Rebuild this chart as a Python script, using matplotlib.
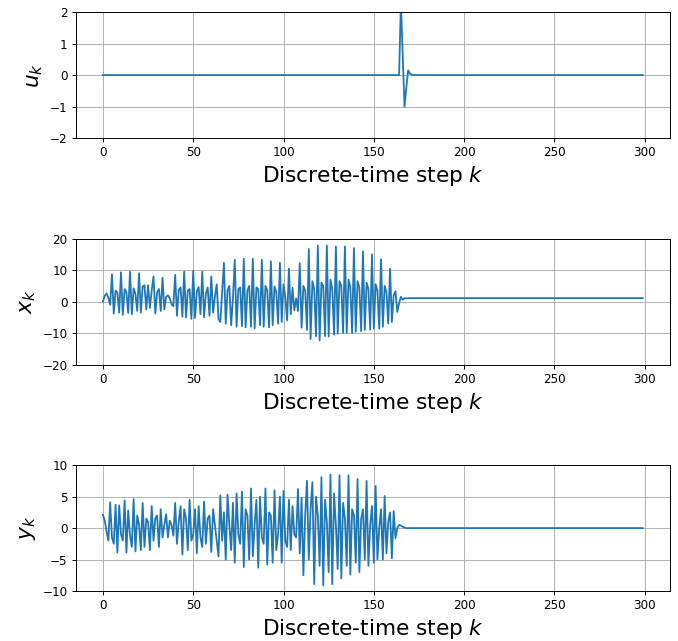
import numpy as np
from matplotlib import pyplot as plt

N = 300  # number of time steps

# input u_k (nonzero only around k=165)
u_start = 164
u_pulse = [0.0, 2.3, 0.6, -1.0, -0.4, 0.15, 0.05, 0.02, 0.0]

x_trans = [0.0, 1.8, 2.6, 1.2, -1.0, 8.7, -3.8, 3.5, 2.8, -3.5,
           9.3, -4.2, 4.0, 3.0, -3.6, 9.5, -4.0, 4.2, 2.5, -3.0,
           9.0, -3.5, 4.8, 5.2, -2.5, 5.2, -2.0, 3.5, 8.0, -3.8,
           3.0, 4.0, -3.0, 7.6, -2.5, 1.5, 2.0, 1.0, -0.8, -1.5,
           8.5, -4.5, 3.8, 4.5, -4.8, 9.5, -5.0, 3.5, 4.0, -5.5,
           9.8, -5.2, 3.2, 4.6, -4.0, 9.5, -5.0, 2.5, 4.5, -4.5,
           8.0, -3.5, 1.5, 5.5, -5.5, -6.5, 3.0, 12.3, -7.0, 3.5,
           5.0, -7.5, 1.0, 13.3, -8.0, 4.0, 4.5, -7.8, 13.6, -8.2,
           3.5, 5.0, -8.0, 13.6, -8.5, 4.5, 4.0, -7.5, 13.3, -8.0,
           5.0, 3.5, -8.2, 12.8, -7.5, 4.8, 3.0, -7.0, 12.3, -6.5,
           5.5, 1.5, -6.0, 10.5, -4.0, 4.4, -2.8, 1.0, -3.0, 12.2,
           -8.3, 5.0, 3.5, -9.0, 16.7, -11.9, 6.5, 4.0, -11.0, 17.8,
           -12.4, 6.0, 5.0, -11.0, 17.8, -11.1, 7.0, 4.0, -10.5, 17.5,
           -10.2, 6.5, 5.0, -10.0, 17.5, -10.0, 7.0, 4.5, -10.0, 17.0,
           -9.6, 6.5, 4.5, -9.4, 16.0, -9.0, 6.0, 4.0, -8.9, 15.0,
           -8.6, 5.5, 3.5, -8.6, 13.5, -8.0, 5.0, 3.0, -7.0, 10.5,
           -6.5, 2.0, 3.3, -3.3, -0.5, 1.5, 0.6, 1.1, 1.0]
x_steady = 1.1

# output y_k
y_trans = [2.1, 1.2, -0.5, -2.0, 4.1, -1.5, -2.5, 3.7, -3.9, 3.6,
           -1.0, -2.0, 4.4, -3.9, 2.8, -1.2, -3.0, 4.6, -3.7, 2.0,
           0.5, -3.5, 4.0, -3.0, 1.5, 1.0, -3.5, 3.5, -2.0, 1.5,
           2.0, -3.0, 3.0, -1.5, 0.5, 2.2, -1.5, 1.2, 0.5, -1.2,
           4.0, -2.5, 1.0, 3.5, -4.2, 3.0, 1.5, -3.5, 4.5, -2.0,
           -1.0, 3.0, -4.0, 3.5, -1.5, -3.0, 4.2, -2.5, 1.5, 2.0,
           -3.8, 3.0, 0.5, -2.0, -4.5, 5.2, -2.0, 2.5, -5.0, 5.3,
           0.5, -3.5, 4.0, -5.5, 5.5, -1.0, -2.5, 5.8, -6.2, 3.0,
           2.0, -5.0, 6.3, -4.5, 0.5, 4.5, -6.3, 5.0, -1.5, -2.5,
           6.3, -5.8, 2.5, 2.0, -5.5, 6.0, -3.5, -1.0, 5.0, -5.5,
           5.9, -2.0, -3.0, 4.5, -3.5, 3.5, -1.0, -1.5, 6.2, -4.0,
           4.8, -7.5, 2.0, 7.5, -5.0, 3.0, 7.3, -8.9, 5.0, 2.0,
           -6.0, 8.1, -9.1, 4.5, 1.0, -7.0, 8.5, -8.9, 5.5, 0.5,
           -6.5, 8.4, -8.0, 4.0, 1.5, -6.0, 8.4, -7.4, 3.0, 2.0,
           -5.5, 7.8, -7.0, 1.5, 3.0, -5.0, 7.5, -6.0, 0.5, 3.5,
           -5.5, 6.7, -5.0, 0.0, 3.0, -5.0, 5.1, -4.0, 1.0, 2.5,
           -4.8, 2.7, -1.6, 0.0, 0.5, 0.4, 0.2, 0.1, 0.0]
y_steady = 0.0

k = np.arange(N)
u = np.zeros(N)
u[u_start:u_start + len(u_pulse)] = u_pulse
x = np.concatenate([x_trans, [x_steady] * (N - len(x_trans))])
y = np.concatenate([y_trans, [y_steady] * (N - len(y_trans))])

dpi = 86.4
fig, axs = plt.subplots(3, 1, figsize=(678 / dpi, 641 / dpi), dpi=dpi)
fig.subplots_adjust(left=0.112, right=0.988, top=0.981, bottom=0.078, hspace=0.8)

signals = [(u, r'$u_k$', (-2, 2)), (x, r'$x_k$', (-20, 20)), (y, r'$y_k$', (-10, 10))]
for ax, (s, lab, yl) in zip(axs, signals):
    ax.plot(k, s)
    ax.set_ylim(yl)
    ax.set_ylabel(lab, fontsize=18)
    ax.set_xlabel(r'Discrete-time step $k$', fontsize=18)
    ax.tick_params(labelsize=10)
    ax.grid(True)

plt.savefig('out.png')
